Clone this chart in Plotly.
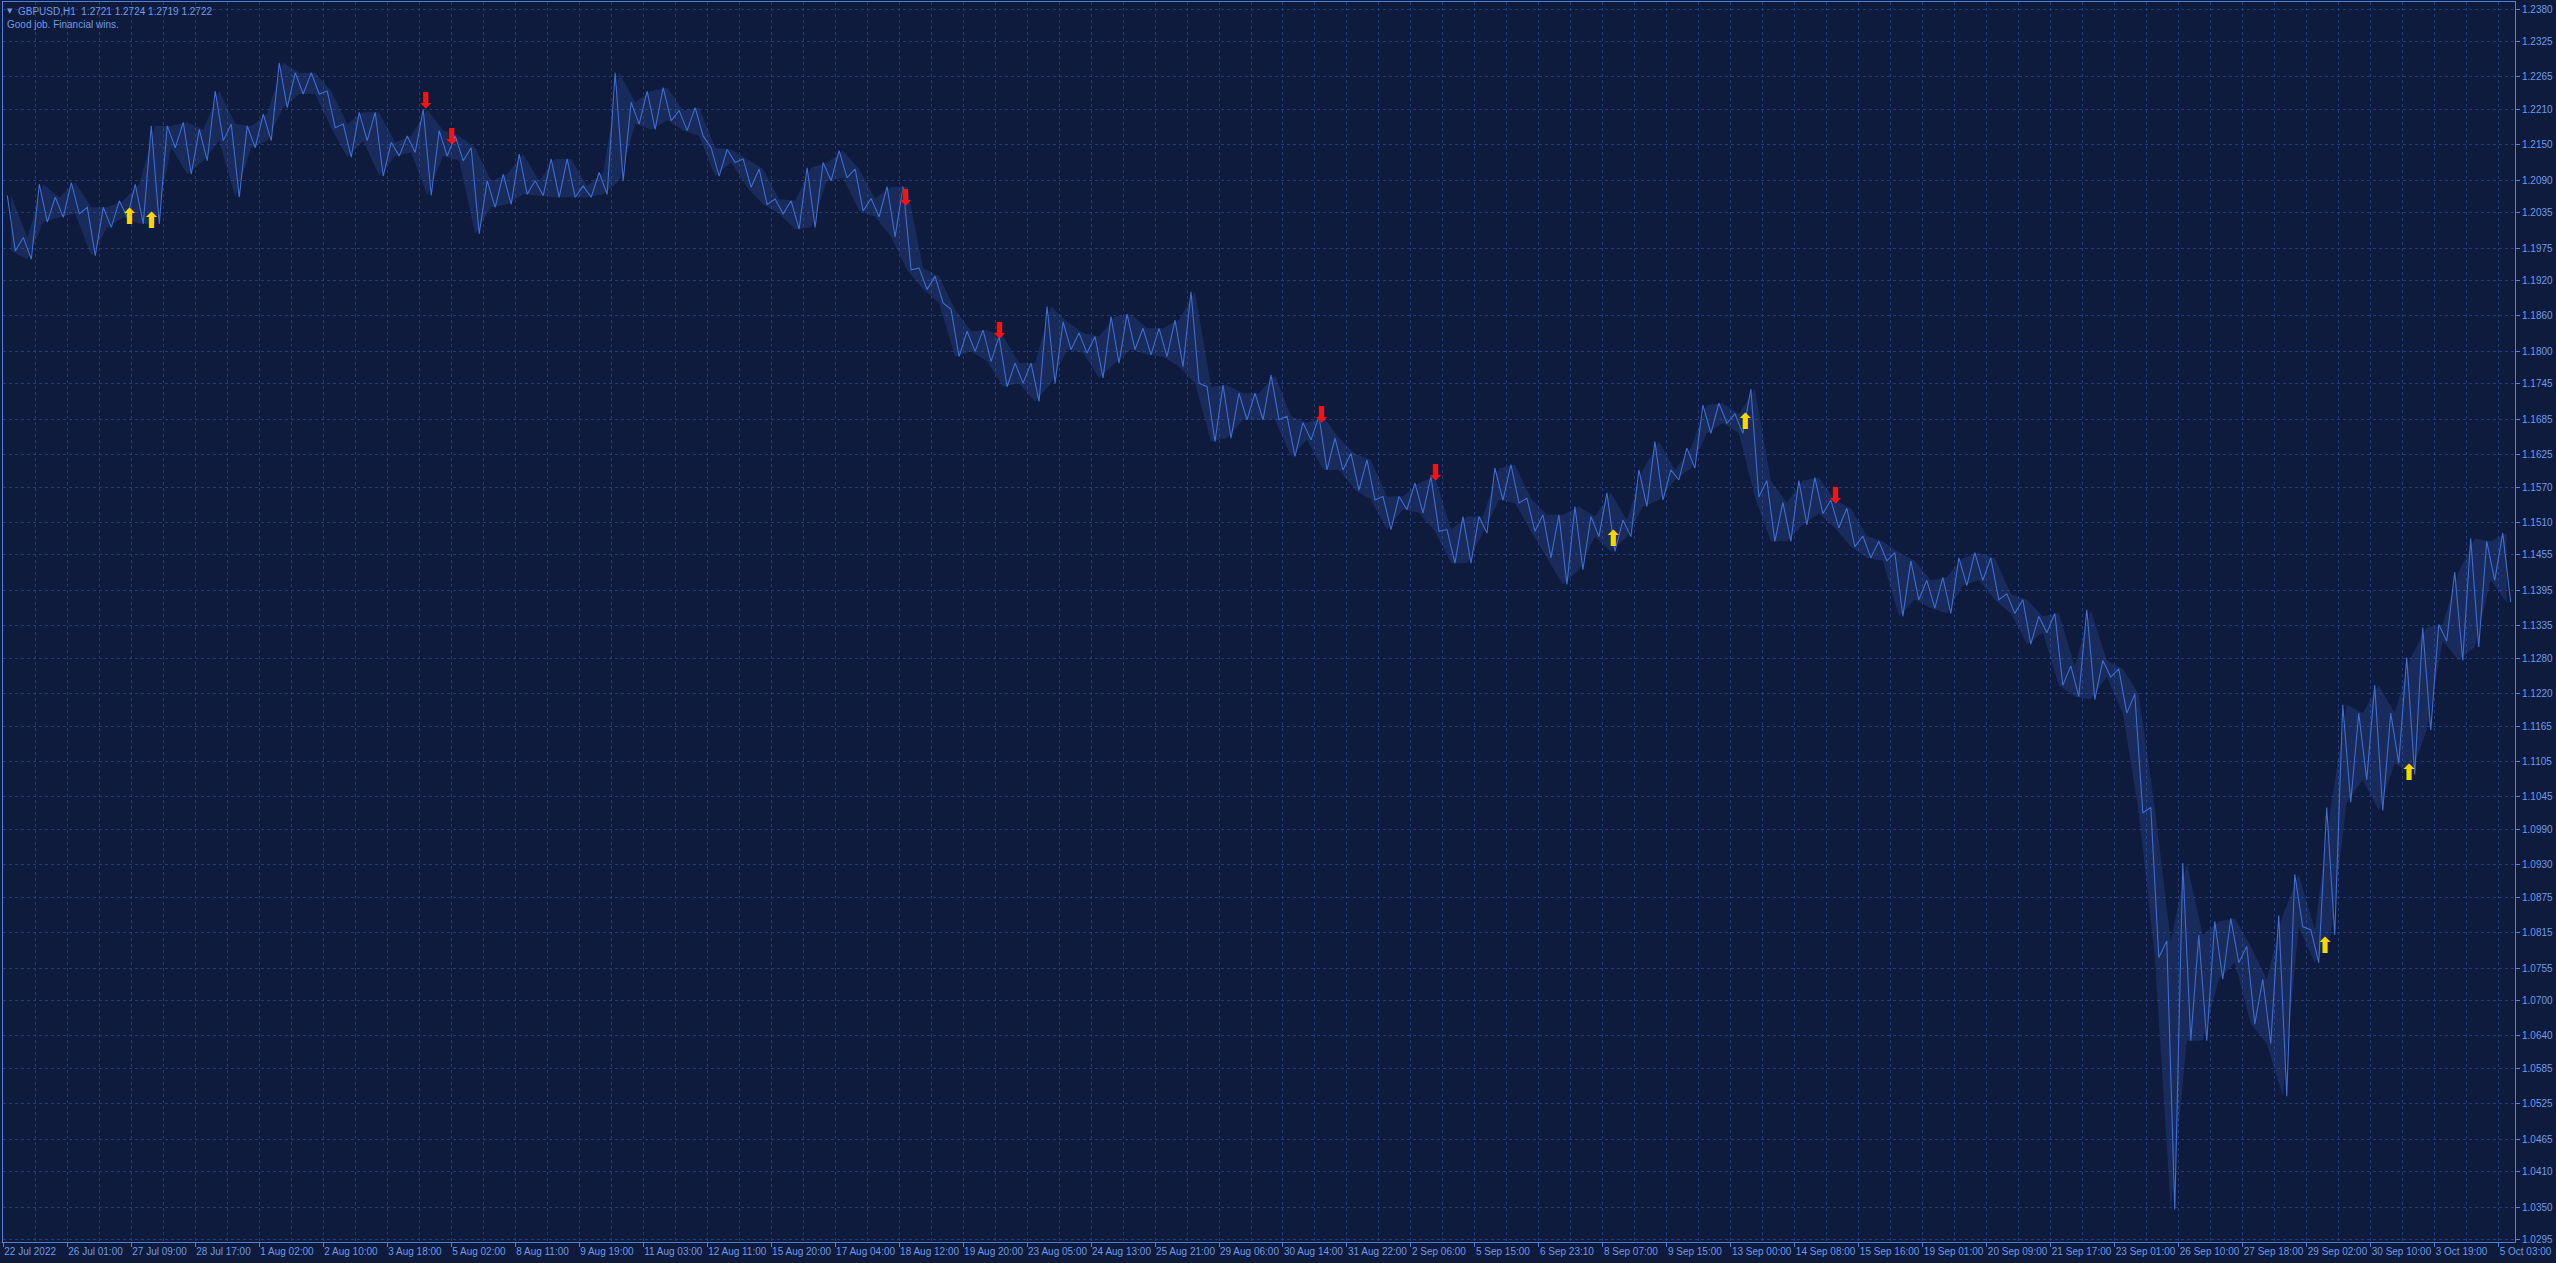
import plotly.graph_objects as go

# ---------------- data ----------------
TIME_LABELS = [
    "22 Jul 2022", "26 Jul 01:00", "27 Jul 09:00", "28 Jul 17:00", "1 Aug 02:00",
    "2 Aug 10:00", "3 Aug 18:00", "5 Aug 02:00", "8 Aug 11:00", "9 Aug 19:00",
    "11 Aug 03:00", "12 Aug 11:00", "15 Aug 20:00", "17 Aug 04:00", "18 Aug 12:00",
    "19 Aug 20:00", "23 Aug 05:00", "24 Aug 13:00", "25 Aug 21:00", "29 Aug 06:00",
    "30 Aug 14:00", "31 Aug 22:00", "2 Sep 06:00", "5 Sep 15:00", "6 Sep 23:10",
    "8 Sep 07:00", "9 Sep 15:00", "13 Sep 00:00", "14 Sep 08:00", "15 Sep 16:00",
    "19 Sep 01:00", "20 Sep 09:00", "21 Sep 17:00", "23 Sep 01:00", "26 Sep 10:00",
    "27 Sep 18:00", "29 Sep 02:00", "30 Sep 10:00", "3 Oct 19:00", "5 Oct 03:00",
]
BARS_PER_LABEL = 32      # H1 bars between time labels
BARS_PER_GRID = 16       # H1 bars between vertical grid lines
VISIBLE_BARS = 1256

PRICE_LABELS = [
    "1.2380", "1.2325", "1.2265", "1.2210", "1.2150", "1.2090", "1.2035", "1.1975",
    "1.1920", "1.1860", "1.1800", "1.1745", "1.1685", "1.1625", "1.1570", "1.1510",
    "1.1455", "1.1395", "1.1335", "1.1280", "1.1220", "1.1165", "1.1105", "1.1045",
    "1.0990", "1.0930", "1.0875", "1.0815", "1.0755", "1.0700", "1.0640", "1.0585",
    "1.0525", "1.0465", "1.0410", "1.0350", "1.0295",
]

WINDOW_BARS = 8  # each high/low pair covers 8 hourly bars
HIGHS = [
    1.2064, 1.1993, 1.2083, 1.2061, 1.2086, 1.2044, 1.2044, 1.2055,
    1.2083, 1.2182, 1.2182, 1.2188, 1.2176, 1.2241, 1.2185, 1.2182,
    1.2202, 1.2289, 1.2272, 1.2272, 1.2241, 1.2185, 1.2205, 1.2205,
    1.2154, 1.2165, 1.2210, 1.2174, 1.2165, 1.2145, 1.2089, 1.2100,
    1.2134, 1.2089, 1.2126, 1.2126, 1.2080, 1.2103, 1.2272, 1.2222,
    1.2241, 1.2247, 1.2208, 1.2213, 1.2145, 1.2142, 1.2126, 1.2109,
    1.2058, 1.2055, 1.2111, 1.2120, 1.2140, 1.2109, 1.2059, 1.2079,
    1.2079, 1.1941, 1.1927, 1.1871, 1.1834, 1.1836, 1.1825, 1.1780,
    1.1780, 1.1876, 1.1850, 1.1831, 1.1825, 1.1859, 1.1863, 1.1839,
    1.1839, 1.1853, 1.1901, 1.1740, 1.1743, 1.1729, 1.1729, 1.1760,
    1.1690, 1.1679, 1.1690, 1.1653, 1.1627, 1.1616, 1.1554, 1.1554,
    1.1577, 1.1588, 1.1498, 1.1520, 1.1520, 1.1602, 1.1608, 1.1551,
    1.1523, 1.1523, 1.1537, 1.1520, 1.1560, 1.1514, 1.1599, 1.1647,
    1.1599, 1.1636, 1.1709, 1.1712, 1.1694, 1.1736, 1.1581, 1.1544,
    1.1581, 1.1586, 1.1548, 1.1534, 1.1487, 1.1478, 1.1459, 1.1445,
    1.1412, 1.1417, 1.1450, 1.1459, 1.1450, 1.1389, 1.1379, 1.1351,
    1.1356, 1.1267, 1.1362, 1.1276, 1.1262, 1.1219, 1.1027, 1.0801,
    1.0933, 1.0811, 1.0834, 1.0839, 1.0792, 1.0736, 1.0844, 1.0914,
    1.0820, 1.1027, 1.1201, 1.1187, 1.1234, 1.1187, 1.1281, 1.1332,
    1.1337, 1.1426, 1.1483, 1.1478, 1.1492,
]
LOWS = [
    1.1970, 1.1956, 1.2019, 1.2027, 1.2033, 1.1962, 1.2010, 1.2027,
    1.2016, 1.2016, 1.2145, 1.2100, 1.2123, 1.2157, 1.2061, 1.2145,
    1.2157, 1.2213, 1.2236, 1.2236, 1.2179, 1.2129, 1.2157, 1.2097,
    1.2131, 1.2137, 1.2064, 1.2131, 1.2123, 1.1999, 1.2044, 1.2049,
    1.2066, 1.2064, 1.2061, 1.2061, 1.2061, 1.2066, 1.2089, 1.2185,
    1.2176, 1.2191, 1.2174, 1.2165, 1.2097, 1.2120, 1.2078, 1.2049,
    1.2033, 1.2007, 1.2010, 1.2089, 1.2094, 1.2038, 1.2028, 1.1994,
    1.1938, 1.1905, 1.1882, 1.1791, 1.1800, 1.1783, 1.1740, 1.1746,
    1.1715, 1.1746, 1.1803, 1.1797, 1.1755, 1.1780, 1.1803, 1.1794,
    1.1791, 1.1774, 1.1746, 1.1647, 1.1653, 1.1684, 1.1684, 1.1684,
    1.1622, 1.1650, 1.1599, 1.1599, 1.1565, 1.1548, 1.1498, 1.1532,
    1.1526, 1.1495, 1.1441, 1.1441, 1.1492, 1.1548, 1.1543, 1.1495,
    1.1450, 1.1405, 1.1430, 1.1486, 1.1461, 1.1486, 1.1537, 1.1548,
    1.1582, 1.1602, 1.1661, 1.1678, 1.1661, 1.1553, 1.1478, 1.1478,
    1.1506, 1.1525, 1.1501, 1.1469, 1.1450, 1.1445, 1.1351, 1.1379,
    1.1365, 1.1356, 1.1403, 1.1412, 1.1379, 1.1356, 1.1304, 1.1323,
    1.1234, 1.1215, 1.1210, 1.1248, 1.1187, 1.1018, 1.0773, 1.0346,
    1.0632, 1.0632, 1.0736, 1.0764, 1.0660, 1.0627, 1.0538, 1.0825,
    1.0764, 1.0811, 1.1036, 1.1074, 1.1022, 1.1102, 1.1083, 1.1158,
    1.1309, 1.1276, 1.1299, 1.1412, 1.1375,
]

UP_BAR = [63, 74, 805, 871, 1161, 1203]
UP_PRICE = [1.2025, 1.2018, 1.1479, 1.1677, 1.0790, 1.1083]
DOWN_BAR = [211, 224, 451, 498, 659, 716, 916]
DOWN_PRICE = [1.2222, 1.2161, 1.2058, 1.1832, 1.1689, 1.1591, 1.1552]

HEADER = "GBPUSD,H1\u00a0\u00a01.2721 1.2724 1.2719 1.2722"
SUBHEADER = "Good job. Financial wins."

# ---------------- styling ----------------
BG = "#0E1B3D"
GRID = "#1F3C7E"
BAR = "#3F6DD0"
FRAME = "#4F80DC"
TEXT = "#6E9AE8"
FONT = "Liberation Sans"

centers = [k * WINDOW_BARS + WINDOW_BARS / 2 for k in range(len(HIGHS))]

# zig-zag through each window's high and low (texture of the hourly bars)
xs, ys = [], []
for k, (h, l) in enumerate(zip(HIGHS, LOWS)):
    start = k * WINDOW_BARS
    xs += [start + WINDOW_BARS * 0.25, start + WINDOW_BARS * 0.75]
    ys += [h, l]

fig = go.Figure()
fig.add_trace(go.Scatter(x=centers, y=HIGHS, mode="lines",
                         line=dict(color="rgba(63,109,208,0.0)", width=0), hoverinfo="skip"))
fig.add_trace(go.Scatter(x=centers, y=LOWS, mode="lines", fill="tonexty",
                         fillcolor="rgba(63,109,208,0.20)",
                         line=dict(color="rgba(63,109,208,0.0)", width=0), hoverinfo="skip"))
fig.add_trace(go.Scatter(x=xs, y=ys, mode="lines",
                         line=dict(color=BAR, width=1.1), hoverinfo="skip"))
fig.add_trace(go.Scatter(x=UP_BAR, y=UP_PRICE, mode="text", text=["\u2b06"] * len(UP_BAR),
                         textfont=dict(color="#FFD400", size=22, family="DejaVu Sans"),
                         hoverinfo="skip"))
fig.add_trace(go.Scatter(x=DOWN_BAR, y=DOWN_PRICE, mode="text", text=["\u2b07"] * len(DOWN_BAR),
                         textfont=dict(color="#FF1010", size=22, family="DejaVu Sans"),
                         hoverinfo="skip"))

label_pos = [i * BARS_PER_LABEL for i in range(len(TIME_LABELS))]
price_vals = [float(p) for p in PRICE_LABELS]

fig.update_layout(
    width=2556, height=1263,
    margin=dict(l=3, r=41, t=2, b=21, autoexpand=False),
    paper_bgcolor=BG, plot_bgcolor=BG,
    showlegend=False,
    font=dict(family=FONT, size=10, color=TEXT),
    xaxis=dict(
        range=[-0.15, VISIBLE_BARS + 0.15],
        tickmode="array", tickvals=label_pos, ticktext=TIME_LABELS,
        ticklabelposition="outside right", tickangle=0, automargin=False,
        ticks="outside", ticklen=4, tickcolor=FRAME,
        showgrid=True, gridcolor=GRID, griddash="3px,3px", gridwidth=1,
        minor=dict(tickmode="linear", tick0=0, dtick=BARS_PER_GRID, showgrid=True,
                   gridcolor=GRID, griddash="3px,3px", ticks=""),
        showline=True, linecolor=FRAME, linewidth=1, mirror=True,
        zeroline=False, tickfont=dict(family=FONT, size=10, color=TEXT),
        fixedrange=True,
    ),
    yaxis=dict(
        range=[1.02908, 1.23919], side="right", automargin=False,
        tickmode="array", tickvals=price_vals, ticktext=PRICE_LABELS,
        ticks="outside", ticklen=4, tickcolor=FRAME,
        showgrid=True, gridcolor=GRID, griddash="3px,3px", gridwidth=1,
        showline=True, linecolor=FRAME, linewidth=1, mirror=True,
        zeroline=False, tickfont=dict(family=FONT, size=10, color=TEXT),
        fixedrange=True,
    ),
    annotations=[
        dict(xref="paper", yref="paper", x=0, y=1, xanchor="center", yanchor="middle",
             xshift=7, yshift=-9, text="\u25bc", showarrow=False,
             font=dict(family="DejaVu Sans", size=7, color=TEXT)),
        dict(xref="paper", yref="paper", x=0, y=1, xanchor="left", yanchor="middle",
             xshift=13, yshift=-9, text=HEADER, showarrow=False,
             font=dict(family=FONT, size=10, color=TEXT)),
        dict(xref="paper", yref="paper", x=0, y=1, xanchor="left", yanchor="middle",
             xshift=2, yshift=-22, text=SUBHEADER, showarrow=False,
             font=dict(family=FONT, size=10, color=TEXT)),
    ],
)

fig.write_html(
    "out.html",
    config={"displayModeBar": False},
    post_script="document.body.style.margin='0';document.body.style.background='" + BG + "';",
)
